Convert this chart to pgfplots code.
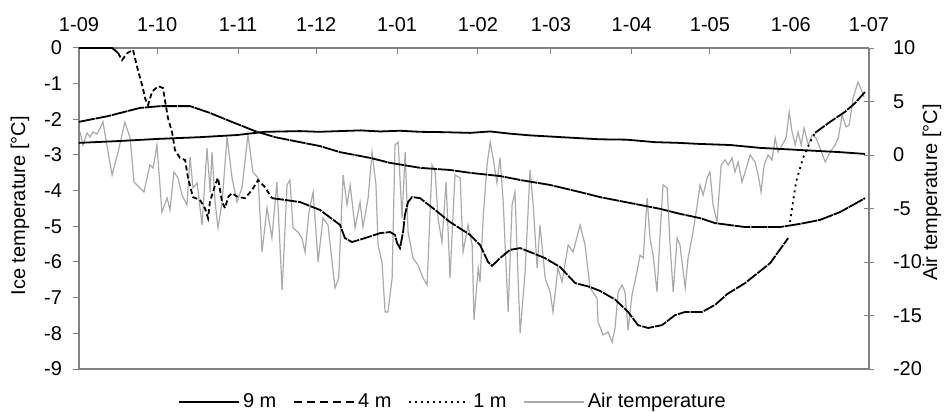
\documentclass[border=0pt]{standalone}
\usepackage{pgfplots}
\pgfplotsset{compat=1.18}
\usepackage{fontspec}
\setmainfont{Liberation Sans}
\definecolor{axisgray}{RGB}{130,130,130}
\definecolor{airgray}{RGB}{170,170,170}
\begin{document}
\fontsize{10bp}{12bp}\selectfont
\begin{tikzpicture}
\useasboundingbox (-39.5bp,-21.5bp) rectangle (432.5bp,184.5bp);
% ---------- air temperature (right axis) ----------
\begin{axis}[
  at={(0,0)}, anchor=south west, scale only axis,
  width=395bp, height=160.5bp,
  xmin=0, xmax=303, ymin=-20, ymax=10,
  axis x line*=bottom, axis y line*=right,
  axis line style={draw=axisgray, line width=0.7bp},
  xtick=\empty,
  ytick={-20,-15,-10,-5,0,5,10},
  yticklabels={-20,-15,-10,-5,0,5,10},
  tick align=center, major tick length=5bp,
  tick style={draw=axisgray, line width=0.5bp},
  yticklabel style={xshift=6bp},
  ylabel={Air temperature [°C]},
  ylabel style={at={(axis description cs:1.0797,0.55)}, anchor=center},
  legend columns=4,
  legend image code/.code={\draw[#1] (0bp,0bp) -- (30bp,0bp);},
  legend style={draw=none, fill=none, at={(axis description cs:0.474,-0.103)}, anchor=center,
    /tikz/every even column/.append style={column sep=7bp},
    nodes={inner sep=1.5bp}},
]
\addlegendimage{black, line width=0.9bp}
\addlegendimage{black, line width=0.9bp, dash pattern=on 4bp off 2.5bp}
\addlegendimage{black, line width=0.9bp, dash pattern=on 1bp off 2bp}
\addplot[airgray, line width=0.6bp] coordinates {
(0.4,2.15) (1.5,0.93) (3.1,2.06) (4.2,1.68) (5.4,2.15) (6.9,1.96) (8.1,2.52) (9.2,3.08)
(10.7,0.93) (12.7,-1.87) (15.0,0.28) (17.6,3.08) (19.6,1.59) (21.1,-2.52) (24.9,-3.46)
(27.2,-0.93) (28.4,-1.22) (29.9,0.93) (31.8,-5.33) (33.8,-4.02) (34.9,-5.14) (36.4,-1.59)
(38.0,-2.15) (39.5,-3.74) (41.4,-4.67) (42.6,-0.19) (43.7,-3.08) (45.3,-2.62) (47.2,-6.54)
(49.1,0.65) (50.3,-3.46) (51.0,0.28) (52.2,-4.39) (53.3,-6.82) (54.9,-4.39) (56.8,1.68)
(58.7,-2.15) (60.6,-4.39) (62.5,-3.08) (64.8,1.87) (66.7,-1.59) (68.7,-2.15) (70.2,-9.07)
(72.1,-4.95) (74.0,-7.76) (75.9,-2.52) (77.9,-12.62) (79.8,-2.80) (80.9,-2.34) (82.1,-6.82)
(84.0,-7.20) (85.5,-7.76) (86.7,-9.07) (88.2,-5.33) (89.8,-3.46) (91.7,-10.0) (93.6,-5.89)
(95.5,-6.54) (98.2,-12.43) (99.6,-11.50) (101.3,-1.87) (102.8,-4.67) (104.0,-2.80)
(105.9,-6.82) (107.8,-4.39) (108.9,-6.73) (110.9,-4.02) (112.4,0.28) (113.9,-2.80)
(114.7,-8.41) (116.2,-10.0) (117.4,-14.67) (118.5,-14.67) (120.1,-11.50) (121.2,0.93)
(122.4,1.21) (123.9,-5.89) (125.1,0.28) (126.2,-7.20) (128.1,-9.63) (130.0,-10.28)
(132.0,-11.50) (133.5,-12.15) (135.4,-0.93) (136.6,-1.59) (137.7,-5.89) (139.2,-8.13)
(140.8,-2.52) (142.3,-11.50) (144.2,-1.87) (146.2,-2.15) (147.3,-9.07) (149.2,-6.54)
(150.8,-8.41) (151.5,-15.42) (153.1,-10.56) (153.8,-11.87) (155.0,-5.89) (156.5,-0.93)
(157.7,1.21) (158.8,-0.28) (160.3,-2.62) (161.5,-0.28) (162.7,-4.39) (164.6,-14.67)
(166.1,-4.67) (167.2,-3.46) (169.2,-16.64) (171.1,-10.94) (173.0,-1.40) (174.2,-4.67)
(175.7,-10.56) (176.8,-6.54) (178.8,-11.50) (180.7,-12.80) (181.8,-14.67) (183.7,-10.56)
(185.3,-11.87) (187.6,-8.41) (189.5,-9.07) (192.2,-6.54) (194.1,-8.41) (196.0,-12.43)
(198.7,-13.37) (199.1,-15.61) (201.0,-16.82) (202.9,-16.54) (204.5,-17.48) (205.6,-16.17)
(206.8,-12.80) (208.3,-12.15) (209.4,-12.80) (210.6,-16.36) (212.1,-13.08) (214.0,-10.94)
(215.2,-9.35) (216.4,-9.63) (217.9,-4.02) (219.0,-7.76) (220.2,-9.35) (221.7,-12.80)
(222.9,-7.20) (224.0,-2.80) (225.6,-3.08) (226.7,-8.41) (227.9,-12.80) (229.4,-7.76)
(230.5,-8.41) (232.5,-12.43) (233.6,-9.63) (235.5,-7.20) (237.1,-4.67) (238.2,-2.80)
(239.4,-3.74) (240.9,-2.15) (242.0,-1.59) (243.2,-4.67) (244.7,-6.26) (246.3,-0.93)
(247.8,-0.47) (249.0,-0.93) (250.5,-0.28) (251.6,-1.59) (252.8,-0.65) (254.3,-2.52)
(256.3,-0.93) (257.4,0.0) (259.3,-0.65) (260.5,-1.87) (261.6,-3.46) (262.8,-0.93)
(264.3,0.0) (265.8,-0.47) (267.0,1.59) (268.1,0.28) (269.7,0.93) (271.2,1.59) (272.4,4.02)
(273.5,2.15) (274.7,0.93) (275.8,2.15) (277.0,0.93) (278.1,2.52) (279.7,0.93) (281.2,1.87)
(282.7,1.59) (284.2,0.65) (286.2,-0.65) (288.1,0.28) (290.0,0.93) (291.2,1.59) (292.7,3.74)
(294.2,2.62) (295.4,2.80) (296.9,5.33) (298.8,6.82) (300.4,5.89) (301.1,5.42)
};
\legend{9 m,4 m,1 m,Air temperature}
\end{axis}
% ---------- ice temperature (left axis) ----------
\begin{axis}[
  at={(0,0)}, anchor=south west, scale only axis,
  width=395bp, height=160.5bp,
  xmin=0, xmax=303, ymin=-9, ymax=0,
  axis x line*=top, axis y line*=left,
  axis line style={draw=axisgray, line width=0.7bp},
  xtick={0,30,61,91,122,153,181,212,242,273,303},
  xticklabels={1-09,1-10,1-11,1-12,1-01,1-02,1-03,1-04,1-05,1-06,1-07},
  ytick={-9,-8,-7,-6,-5,-4,-3,-2,-1,0},
  yticklabels={-9,-8,-7,-6,-5,-4,-3,-2,-1,0},
  tick align=inside, major tick length=3bp,
  tick style={draw=axisgray, line width=0.5bp},
  ytick style={xshift=-3bp},
  xticklabel style={yshift=4.5bp},
  yticklabel style={xshift=-5bp},
  ylabel={Ice temperature [°C]},
  ylabel style={at={(axis description cs:-0.0747,0.508)}, anchor=center},
  clip=false,
]
% 9 m
\addplot[black, line width=0.9bp] coordinates {
(0,-2.66) (15,-2.61) (29.9,-2.55) (46.4,-2.50) (60.6,-2.44) (71.3,-2.35) (84.8,-2.33)
(92,-2.35) (100.1,-2.33) (108,-2.31) (115.5,-2.34) (123,-2.32) (130.8,-2.35) (140,-2.36)
(150.0,-2.38) (157.7,-2.34) (165,-2.40) (173.0,-2.45) (185,-2.50) (199.8,-2.56) (210,-2.57)
(220.9,-2.64) (230,-2.66) (238.2,-2.69) (249.7,-2.72) (261.2,-2.80) (276.6,-2.86)
(291.9,-2.92) (301.5,-2.97)
};
% 4 m
\addplot[black, line width=0.9bp, dash pattern=on 8bp off 0.4bp] coordinates {
(0,-2.07) (11.1,-1.91) (23.4,-1.68) (31.1,-1.63) (42.6,-1.63) (50.2,-1.82) (57.9,-2.05)
(67.5,-2.33) (75.2,-2.50) (84.8,-2.64) (92.4,-2.75) (100.1,-2.92) (111.6,-3.08) (119.3,-3.22)
(130.8,-3.36) (142.3,-3.42) (150.0,-3.50) (161.5,-3.59) (169.2,-3.70) (180.7,-3.84)
(192.2,-4.04) (199.8,-4.18) (215.2,-4.40) (222.9,-4.51) (230.5,-4.65) (238.2,-4.77)
(244.0,-4.91) (255.5,-5.02) (268.9,-5.02) (276.6,-4.93) (284.2,-4.82) (291.9,-4.60)
(301.5,-4.21)
};
% 1 m
\addplot[black, line width=0.9bp] coordinates {
(0,0) (8.1,0) (12.7,0) (15.0,-0.14)
};
\addplot[black, line width=0.9bp, dash pattern=on 2.5bp off 1.5bp] coordinates {
(15.0,-0.14) (16.5,-0.34) (18.4,-0.15) (20.7,-0.05) (22.6,-0.62) (24.5,-1.12) (25.3,-1.40)
(26.5,-1.60) (28.0,-1.23) (30.3,-1.07) (32.2,-1.12) (34.1,-1.96) (35.7,-2.36) (36.8,-2.86)
(38.7,-3.08) (40.7,-3.14) (41.8,-3.64) (43.7,-4.18) (46.4,-4.26) (48.3,-4.49) (49.5,-4.77)
(50.2,-4.32) (52.2,-3.84) (53.3,-3.64) (54.9,-4.32) (56.0,-4.49) (57.2,-4.18) (58.7,-4.07)
(61.0,-4.18) (63.7,-4.21) (66.4,-3.98) (68.7,-3.70) (71.3,-3.90) (74.0,-4.21)
};
\addplot[black, line width=0.9bp, dash pattern=on 6bp off 0.6bp] coordinates {
(74.0,-4.21) (79.0,-4.26) (84.8,-4.32) (92.4,-4.54) (100.1,-4.96) (102.0,-5.33) (104.7,-5.44)
(109.7,-5.33) (115.5,-5.19) (119.3,-5.16) (121.2,-5.24) (122.0,-5.47) (123.1,-5.61)
(124.3,-5.16) (125.0,-4.68) (126.2,-4.32) (127.7,-4.18) (130.8,-4.21) (136.6,-4.54)
(142.3,-4.88) (150.0,-5.24) (153.8,-5.52) (156.9,-6.00) (158.4,-6.11) (161.5,-5.89)
(165.3,-5.66) (169.2,-5.61) (173.0,-5.72) (178.7,-5.89) (184.5,-6.14) (190.3,-6.59)
(196.0,-6.70) (199.8,-6.81) (205.6,-7.05) (210.6,-7.40) (214.4,-7.77) (218.3,-7.85)
(223.6,-7.77) (228.6,-7.49) (232.5,-7.40) (239.0,-7.40) (244.0,-7.20) (248.6,-6.90)
(255.5,-6.59) (265.1,-6.03) (272.0,-5.33)
};
\addplot[black, line width=0.9bp, dash pattern=on 1bp off 2bp] coordinates {
(272.7,-4.88) (275.0,-3.76) (277.7,-3.08) (280.4,-2.64) (282.3,-2.38)
};
\addplot[black, line width=0.9bp, dash pattern=on 6bp off 0.6bp] coordinates {
(282.3,-2.38) (288.1,-2.07) (293.8,-1.79) (297.7,-1.54) (301.5,-1.23)
};
\end{axis}
\end{tikzpicture}
\end{document}
